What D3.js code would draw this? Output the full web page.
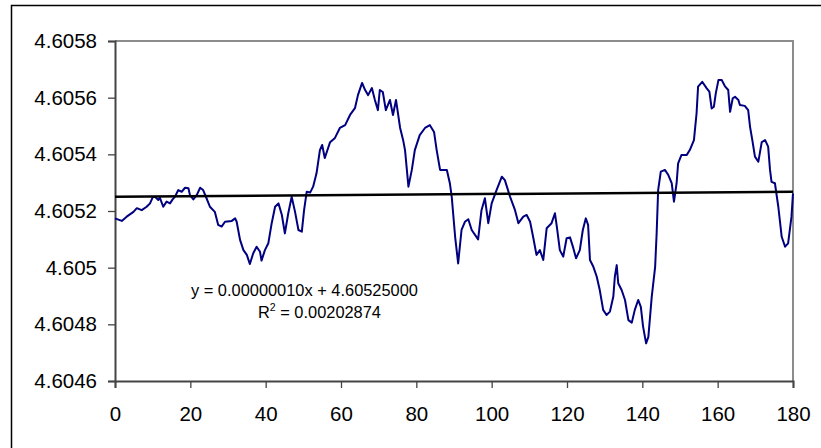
<!DOCTYPE html>
<html>
<head>
<meta charset="utf-8">
<script src="https://cdn.jsdelivr.net/npm/d3@7"></script>
<style>
  body { margin: 0; background: #fff; }
  text { font-family: Arial, "Liberation Sans", sans-serif; }
</style>
</head>
<body>
<div id="vis-container"></div>
<script>
// series (x position, level)
const dayX = [0, 1.8, 3.1, 4.9, 5.8, 7.1, 8.4, 9.3, 10, 10.6, 11.5, 11.9, 12.8, 13.7, 14.6, 15.3, 15.9,
  16.8, 17.7, 18.6, 19.5, 19.9, 20.8, 21.7, 22.6, 23.4, 24.3, 25.2, 26.5, 27.4, 28.3, 29.2, 31, 31.9,
  32.3, 33.2, 34.1, 35, 35.8, 36.7, 37.6, 38.5, 38.9, 39.8, 40.7, 41.6, 42.5, 43.4, 44.3, 45.1, 46,
  46.9, 47.8, 48.7, 49.6, 50.2, 50.9, 51.8, 52.6, 53.5, 54.4, 55, 55.7, 57.1, 58.4, 59.7, 61.1, 62.4,
  63.7, 64.5, 65.6, 66.4, 67.2, 68.2, 69, 69.8, 70.3, 71.1, 71.9, 73, 73.8, 74.6, 75.7, 76.5, 77,
  77.9, 78.8, 79.6, 80.9, 82.3, 83.6, 84.7, 85.4, 86.3, 88.1, 88.9, 89.4, 90.3, 91.1, 92, 92.9, 93.8,
  94.7, 96.4, 97.3, 98.2, 99.1, 100, 101.3, 102.7, 103.5, 104.9, 106.2, 107.1, 108.4, 109.3, 110.2,
  111, 111.9, 112.8, 113.7, 114.6, 115.9, 116.8, 117.3, 118.1, 119, 119.9, 120.8, 121.7, 122.4, 123.4,
  124.2, 125, 125.6, 126.1, 127, 127.9, 128.7, 129.6, 130.5, 131.4, 132.3, 132.7, 133.2, 133.6, 134.5,
  135.4, 136.3, 137.2, 138, 138.9, 139.6, 140.2, 141, 141.6, 142.5, 143.4, 143.8, 144.2, 144.9, 146,
  146.9, 147.8, 148.4, 149.1, 149.5, 150.4, 151.8, 152.6, 153.7, 154.4, 154.8, 155.9, 157.1, 157.8,
  158.4, 159, 159.5, 160.2, 161.1, 161.9, 162.8, 163.3, 164, 164.6, 165.5, 165.9, 167.2, 168.1, 168.6,
  169.2, 169.9, 170.8, 171.7, 172.6, 173.4, 173.9, 174.3, 175.2, 176.1, 177, 177.9, 178.7, 179.6, 180];

const level = [4.605174, 4.605165, 4.60518, 4.605197, 4.60521, 4.605203, 4.605215, 4.605227, 4.605248,
  4.60525, 4.605239, 4.605247, 4.605215, 4.605233, 4.605227, 4.605241, 4.60525, 4.605274, 4.605268,
  4.605282, 4.60528, 4.605256, 4.605241, 4.605256, 4.605282, 4.605274, 4.605245, 4.605215, 4.605197,
  4.605151, 4.605145, 4.605162, 4.605165, 4.605174, 4.605162, 4.605098, 4.605062, 4.605045, 4.605013,
  4.605051, 4.605074, 4.605056, 4.605025, 4.605062, 4.605086, 4.605157, 4.605215, 4.605227, 4.605186,
  4.605121, 4.605192, 4.60525, 4.605197, 4.605133, 4.605127, 4.605203, 4.605268, 4.605265, 4.605286,
  4.605333, 4.605415, 4.605433, 4.605387, 4.605443, 4.605458, 4.605493, 4.605503, 4.605539, 4.605563,
  4.605609, 4.605652, 4.605627, 4.605609, 4.605634, 4.605592, 4.605556, 4.605627, 4.60562, 4.605556,
  4.605592, 4.605539, 4.605592, 4.605493, 4.60545, 4.605415, 4.605286, 4.605345, 4.605415, 4.605468,
  4.605493, 4.605503, 4.605479, 4.605415, 4.605345, 4.605345, 4.605298, 4.60525, 4.605109, 4.605015,
  4.605133, 4.605162, 4.605171, 4.605133, 4.6051, 4.605203, 4.605245, 4.605157, 4.605227, 4.605274,
  4.605321, 4.605309, 4.60525, 4.605203, 4.605157, 4.60518, 4.605186, 4.605162, 4.605109, 4.605045,
  4.605062, 4.605027, 4.605139, 4.605157, 4.605192, 4.605145, 4.605062, 4.605039, 4.605104, 4.605107,
  4.605068, 4.605033, 4.605062, 4.605133, 4.605174, 4.605151, 4.605027, 4.605003, 4.604968, 4.604921,
  4.604851, 4.604833, 4.604845, 4.604898, 4.604968, 4.605009, 4.604945, 4.604921, 4.604886, 4.604815,
  4.604806, 4.604851, 4.604886, 4.604862, 4.604792, 4.604733, 4.604756, 4.604898, 4.605003, 4.605121,
  4.605274, 4.605339, 4.605345, 4.605327, 4.605298, 4.605233, 4.605298, 4.605368, 4.605398, 4.605398,
  4.605415, 4.60545, 4.605545, 4.605639, 4.605656, 4.605633, 4.605621, 4.605562, 4.605568, 4.605615,
  4.605662, 4.605662, 4.605641, 4.605627, 4.60555, 4.605598, 4.605603, 4.605592, 4.605574, 4.605571,
  4.605556, 4.605497, 4.60545, 4.605392, 4.605374, 4.605443, 4.60545, 4.605427, 4.605345, 4.605303,
  4.605298, 4.605215, 4.605109, 4.605074, 4.605086, 4.60518, 4.605262];

const xTicks = [0, 20, 40, 60, 80, 100, 120, 140, 160, 180];
const yTicks = [4.6046, 4.6048, 4.605, 4.6052, 4.6054, 4.6056, 4.6058];

// linear trend (from the label)
const slope = 0.00000010;
const intercept = 4.60525;
const eqText = "y = 0.00000010x + 4.60525000";
const r2Text = " = 0.00202874";

const W = 821, H = 448;
const plot = { left: 115, right: 793, top: 41, bottom: 381 };

const svg = d3.select("#vis-container")
  .append("svg")
    .attr("width", W)
    .attr("height", H);

svg.append("rect")
  .attr("width", W).attr("height", H)
  .attr("fill", "#fff");

// outer chart frame (runs off right and bottom)
svg.append("path")
  .attr("d", `M11.5,${H} V5.5 H${W}`)
  .attr("fill", "none")
  .attr("stroke", "#000")
  .attr("stroke-width", 1.5);

const x = d3.scaleLinear()
  .domain([0, 180])
  .range([plot.left, plot.right]);

const y = d3.scaleLinear()
  .domain([4.6046, 4.6058])
  .range([plot.bottom, plot.top]);

// plot area border (top / right in grey)
svg.append("path")
  .attr("d", `M${plot.left},${plot.top} H${plot.right} V${plot.bottom}`)
  .attr("fill", "none")
  .attr("stroke", "#8c8c8c")
  .attr("stroke-width", 2);

// axes
const xAxis = svg.append("g")
  .attr("transform", `translate(0, ${plot.bottom})`)
  .call(d3.axisBottom(x).tickValues(xTicks).tickSize(7).tickPadding(18).tickFormat(d3.format("d")));

const yAxis = svg.append("g")
  .attr("transform", `translate(${plot.left}, 0)`)
  .call(d3.axisLeft(y).tickValues(yTicks).tickSize(7).tickPadding(11).tickFormat(d => String(+d.toFixed(4))));

[xAxis, yAxis].forEach(a => {
  a.select(".domain").attr("stroke", "#444").attr("stroke-width", 2);
  a.selectAll(".tick line").attr("stroke", "#444").attr("stroke-width", 1.3);
  a.selectAll(".tick text")
    .attr("fill", "#000")
    .style("font-size", "20.5px")
    .style("font-family", "Arial, 'Liberation Sans', sans-serif");
});

// data line
const pts = dayX.map((d, i) => [d, level[i]]);
svg.append("path")
  .datum(pts)
  .attr("fill", "none")
  .attr("stroke", "#000080")
  .attr("stroke-width", 2)
  .attr("stroke-linejoin", "round")
  .attr("d", d3.line().x(d => x(d[0])).y(d => y(d[1])));

// trend line
svg.append("line")
  .attr("x1", x(0)).attr("y1", y(intercept))
  .attr("x2", x(180)).attr("y2", y(intercept + slope * 180))
  .attr("stroke", "#000")
  .attr("stroke-width", 2.5);

// equation label
svg.append("text")
  .attr("x", 191).attr("y", 296)
  .style("font-size", "16.4px")
  .text(eqText);

const r2 = svg.append("text")
  .attr("x", 258).attr("y", 318)
  .style("font-size", "16.4px");
r2.append("tspan").text("R");
r2.append("tspan").attr("dy", -7).style("font-size", "10.5px").text("2");
r2.append("tspan").attr("dy", 7).text(r2Text);
</script>
</body>
</html>
